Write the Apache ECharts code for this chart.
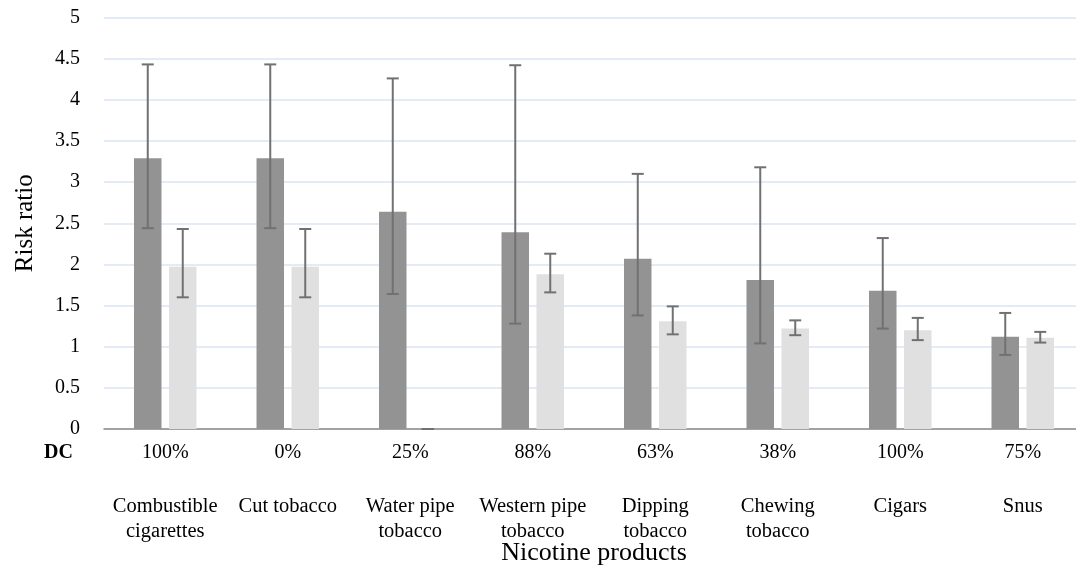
<!DOCTYPE html>
<html>
<head>
<meta charset="utf-8">
<script src="https://cdn.jsdelivr.net/npm/echarts@6/dist/echarts.min.js"></script>
<style>
  html, body { margin: 0; padding: 0; background: #ffffff; overflow: hidden; }
  #chart { width: 1076px; height: 565px; }
</style>
</head>
<body>
<div id="chart"></div>
<script>
// Nicotine products and the DC share for each one
const products = ['Combustible\ncigarettes', 'Cut tobacco', 'Water pipe\ntobacco', 'Western pipe\ntobacco',
                  'Dipping\ntobacco', 'Chewing\ntobacco', 'Cigars', 'Snus'];
const dcShares = ['100%', '0%', '25%', '88%', '63%', '38%', '100%', '75%'];

// Risk ratios with lower / upper confidence limits (dark series)
const rrDark   = [3.29, 3.29, 2.64, 2.39, 2.07, 1.81, 1.68, 1.12];
const lowDark  = [2.44, 2.44, 1.64, 1.28, 1.38, 1.04, 1.22, 0.90];
const highDark = [4.43, 4.43, 4.26, 4.42, 3.10, 3.18, 2.32, 1.41];

// Risk ratios with lower / upper confidence limits (light series)
const rrLight   = [1.97, 1.97, 0, 1.88, 1.31, 1.22, 1.20, 1.11];
const lowLight  = [1.60, 1.60, 0, 1.66, 1.15, 1.14, 1.08, 1.05];
const highLight = [2.43, 2.43, 0, 2.13, 1.49, 1.32, 1.35, 1.18];

const yTicks = [0, 0.5, 1, 1.5, 2, 2.5, 3, 3.5, 4, 4.5, 5];

const FONT = "'Liberation Serif', 'Times New Roman', serif";
const BAR_W = 27.5;
const BAR_GAP = 7.5;
const SHIFT = (BAR_W + BAR_GAP) / 2;

function errorBars(shift) {
  return function (params, api) {
    const i = api.value(0);
    const lo = api.coord([i, api.value(1)]);
    const hi = api.coord([i, api.value(2)]);
    const x = lo[0] + shift;
    const half = 6;
    const style = { stroke: '#717171', lineWidth: 2 };
    return {
      type: 'group',
      children: [
        { type: 'line', shape: { x1: x, y1: lo[1], x2: x, y2: hi[1] }, style: style },
        { type: 'line', shape: { x1: x - half, y1: lo[1], x2: x + half, y2: lo[1] }, style: style },
        { type: 'line', shape: { x1: x - half, y1: hi[1], x2: x + half, y2: hi[1] }, style: style }
      ]
    };
  };
}

const chart = echarts.init(document.getElementById('chart'), null, { renderer: 'canvas' });

chart.setOption({
  animation: false,
  backgroundColor: '#ffffff',
  textStyle: { fontFamily: FONT },
  // the plot runs a few pixels past the right edge of the canvas
  grid: { left: 104, width: 980, top: 17.5, height: 411.5, containLabel: false, outerBoundsMode: 'none' },
  xAxis: [
    {
      type: 'category',
      data: dcShares,
      axisTick: { show: false },
      axisLine: { lineStyle: { color: '#8a8a8a', width: 1.5 } },
      axisLabel: { color: '#000', fontFamily: FONT, fontSize: 20, margin: 14, interval: 0 },
      name: 'Nicotine products',
      nameLocation: 'middle',
      nameGap: 111,
      nameTextStyle: { color: '#000', fontFamily: FONT, fontSize: 26 }
    },
    {
      type: 'category',
      data: products,
      position: 'bottom',
      axisTick: { show: false },
      axisLine: { show: false },
      splitLine: { show: false },
      axisLabel: { color: '#000', fontFamily: FONT, fontSize: 20.5, lineHeight: 25, margin: 65, interval: 0 }
    }
  ],
  yAxis: {
    type: 'value',
    min: yTicks[0],
    max: yTicks[yTicks.length - 1],
    interval: 0.5,
    axisLine: { show: false },
    axisTick: { show: false },
    splitLine: { lineStyle: { color: '#d9e5f3', width: 1.5 } },
    axisLabel: { color: '#000', fontFamily: FONT, fontSize: 20, margin: 24 },
    name: 'Risk ratio',
    nameLocation: 'middle',
    nameRotate: 90,
    nameGap: 66,
    nameTextStyle: { color: '#000', fontFamily: FONT, fontSize: 25 }
  },
  series: [
    {
      type: 'bar',
      data: rrDark,
      barWidth: BAR_W,
      barGap: (BAR_GAP / BAR_W * 100) + '%',
      itemStyle: { color: '#939393' },
      z: 2
    },
    {
      type: 'bar',
      data: rrLight,
      barWidth: BAR_W,
      itemStyle: { color: '#e0e0e0' },
      z: 2
    },
    {
      type: 'custom',
      renderItem: errorBars(-SHIFT),
      encode: { x: 0, y: [1, 2] },
      data: rrDark.map((_, i) => [i, lowDark[i], highDark[i]]),
      z: 5
    },
    {
      type: 'custom',
      renderItem: errorBars(SHIFT),
      encode: { x: 0, y: [1, 2] },
      data: rrLight.map((_, i) => [i, lowLight[i], highLight[i]]),
      z: 5
    }
  ],
  graphic: [
    {
      type: 'text',
      left: 44,
      top: 443,
      style: { text: 'DC', fill: '#000', font: 'bold 20px ' + FONT }
    }
  ]
});
</script>
</body>
</html>
